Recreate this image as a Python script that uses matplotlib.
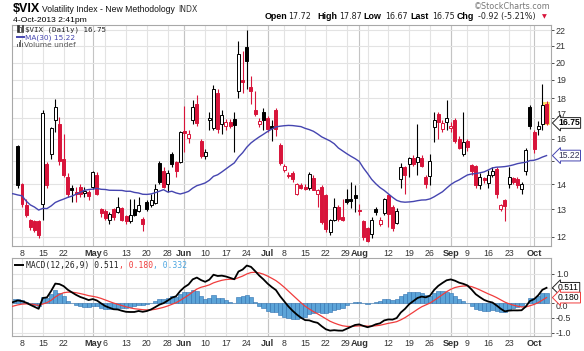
import numpy as np
import pandas as pd
import matplotlib

matplotlib.use("Agg")
import matplotlib.pyplot as plt
from matplotlib.patches import Rectangle
from matplotlib.lines import Line2D
from matplotlib.ticker import NullLocator
from matplotlib.transforms import ScaledTranslation

W, H = 584, 351
RED = "#d8143a"
MA_BLUE = "#4545b0"
GRID = "#e3e3e3"
GRID_MONTH = "#c4c4c4"
TXT = "#333333"

# VIX closes 1-Feb-2013 .. 4-Apr-2013, off the chart; they only warm up MA(30) and MACD
prior_close = [12.90, 14.67, 13.72, 13.41, 13.50, 13.02, 13.16, 12.94, 12.64, 12.66,
               12.46, 12.31, 14.68, 15.22, 14.17, 18.99, 16.87, 14.73, 15.51, 15.36,
               14.15, 13.48, 13.53, 12.83, 12.59, 11.56, 12.27, 11.38, 11.30, 11.30,
               12.56, 13.99, 12.67, 13.99, 12.90, 13.74, 12.77, 13.15, 12.70, 13.58,
               12.74, 14.21, 13.89]

holidays = ["2013-05-27", "2013-07-04", "2013-09-02"]
dates = pd.bdate_range("2013-04-05", "2013-10-04")
dates = dates[~dates.isin(pd.to_datetime(holidays))]

opens = [15.65, 14.00, 13.15, 12.60, 12.55, 12.55, 13.20, 14.85, 15.30, 16.90,
         16.70, 15.05, 14.30, 13.85, 13.70, 13.90, 13.65, 13.70, 13.90, 14.40,
         13.00, 12.95, 12.60, 13.00, 12.90, 13.05, 12.75, 12.55, 13.00, 12.95,
         12.65, 13.30, 13.15, 13.25, 14.90, 14.55, 14.00, 15.30, 14.95, 14.95,
         16.35, 16.05, 16.90, 17.70, 15.90, 15.20, 16.90, 16.50, 18.30, 16.70,
         16.60, 16.80, 16.95, 18.40, 19.00, 20.90, 18.60, 17.40, 16.70, 17.30,
         17.00, 16.60, 17.40, 15.70, 14.60, 14.40, 14.45, 13.60, 13.95, 13.90,
         13.85, 14.25, 13.60, 13.90, 13.55, 12.15, 12.60, 13.10, 12.70, 13.40,
         13.42, 13.55, 12.95, 12.55, 12.30, 12.10, 13.00, 12.45, 12.85, 13.55,
         13.10, 12.50, 14.20, 14.70, 14.85, 15.10, 14.95, 15.10, 14.30, 14.35,
         16.55, 17.20, 16.45, 16.80, 16.50, 16.90, 16.00, 15.30, 15.90, 14.80,
         14.75, 13.95, 14.25, 14.05, 14.40, 14.65, 13.00, 13.35, 14.00, 14.25,
         14.20, 13.80, 14.55, 17.55, 16.30, 16.45, 16.70, 17.72]
highs = [15.70, 14.05, 13.40, 12.65, 12.60, 12.60, 17.40, 14.95, 16.55, 17.95,
         17.05, 16.20, 14.45, 13.95, 13.90, 14.00, 13.90, 13.75, 14.55, 14.50,
         13.05, 13.00, 12.90, 13.05, 13.50, 13.10, 12.80, 13.40, 13.40, 13.50,
         12.70, 13.35, 13.60, 14.00, 15.00, 14.70, 14.60, 15.40, 15.00, 16.35,
         17.60, 16.40, 17.90, 18.20, 16.00, 15.50, 17.30, 18.70, 18.50, 17.40,
         16.95, 16.95, 17.30, 21.30, 20.70, 22.00, 19.20, 18.40, 17.00, 17.50,
         17.10, 16.90, 17.50, 15.80, 14.85, 14.50, 14.55, 14.05, 14.05, 14.00,
         14.50, 14.40, 13.80, 13.95, 13.60, 12.65, 13.45, 13.15, 13.40, 13.80,
         14.10, 13.95, 13.20, 12.60, 12.35, 12.70, 13.10, 12.70, 13.45, 13.60,
         13.15, 13.05, 14.90, 14.75, 15.15, 15.25, 16.70, 15.25, 14.40, 15.30,
         17.30, 17.30, 16.90, 17.90, 16.80, 17.00, 16.10, 17.30, 16.00, 14.85,
         14.80, 14.45, 14.30, 14.60, 14.70, 14.70, 13.20, 13.40, 14.70, 14.30,
         14.30, 14.10, 15.55, 17.65, 16.40, 16.85, 18.80, 17.87]
lows = [13.85, 13.10, 12.70, 12.25, 12.15, 11.95, 12.60, 13.85, 15.05, 16.30,
        14.80, 14.30, 13.50, 13.30, 13.30, 13.50, 13.50, 13.35, 13.80, 13.55,
        12.70, 12.60, 12.45, 12.60, 12.85, 12.55, 12.45, 12.50, 12.75, 12.90,
        12.20, 12.95, 13.10, 13.20, 14.00, 13.85, 13.70, 14.70, 14.30, 14.90,
        15.40, 15.80, 16.70, 16.60, 15.10, 15.05, 16.40, 16.40, 16.25, 16.20,
        16.40, 16.50, 15.40, 18.00, 18.30, 18.50, 17.70, 17.10, 16.55, 16.40,
        16.30, 15.90, 16.10, 14.80, 14.50, 14.25, 14.10, 13.55, 13.80, 13.75,
        13.75, 13.75, 13.10, 12.45, 12.15, 12.05, 12.55, 12.55, 12.55, 13.20,
        13.05, 12.90, 12.80, 11.90, 11.80, 11.95, 12.80, 12.40, 12.80, 12.35,
        12.20, 12.45, 13.85, 13.60, 14.30, 14.75, 14.40, 14.70, 13.85, 13.95,
        15.85, 16.00, 16.30, 16.40, 16.30, 15.80, 15.50, 15.20, 15.45, 14.40,
        13.85, 13.80, 14.05, 13.85, 14.30, 13.45, 12.95, 12.55, 13.85, 14.00,
        13.85, 13.60, 14.40, 16.45, 15.35, 16.15, 16.40, 16.67]
closes = [13.95, 13.19, 12.80, 12.36, 12.24, 12.06, 17.27, 13.96, 16.51, 17.56,
          14.97, 14.39, 13.60, 13.75, 13.62, 13.61, 13.71, 13.52, 14.49, 13.59,
          12.85, 12.66, 12.83, 12.73, 13.09, 12.59, 12.55, 12.77, 12.80, 13.17,
          12.45, 13.02, 13.37, 13.82, 14.07, 13.88, 14.48, 14.83, 14.53, 16.30,
          16.27, 16.20, 17.55, 16.75, 15.20, 15.40, 17.00, 18.50, 16.45, 17.15,
          16.80, 16.61, 16.64, 20.49, 18.90, 20.11, 18.40, 17.21, 16.86, 16.90,
          16.45, 16.50, 16.45, 14.89, 14.78, 14.35, 14.21, 14.01, 13.84, 13.80,
          14.42, 13.78, 13.77, 12.54, 12.29, 12.60, 13.10, 12.65, 12.62, 13.30,
          13.33, 13.45, 12.94, 11.98, 11.84, 12.62, 12.90, 12.62, 13.41, 12.81,
          12.31, 12.95, 14.73, 14.37, 15.10, 14.85, 15.18, 14.76, 14.00, 14.99,
          16.90, 16.80, 16.75, 17.01, 16.61, 15.88, 15.58, 15.85, 15.63, 14.53,
          13.95, 14.30, 14.16, 14.38, 14.53, 13.59, 13.16, 13.12, 14.30, 14.08,
          13.95, 14.00, 15.46, 16.60, 15.54, 16.60, 17.67, 16.75]

tick_dates = ["2013-04-08", "2013-04-15", "2013-04-22", "2013-05-01", "2013-05-06",
              "2013-05-13", "2013-05-20", "2013-05-28", "2013-06-03", "2013-06-10",
              "2013-06-17", "2013-06-24", "2013-07-01", "2013-07-08", "2013-07-15",
              "2013-07-22", "2013-07-29", "2013-08-01", "2013-08-12", "2013-08-19",
              "2013-08-26", "2013-09-03", "2013-09-09", "2013-09-16", "2013-09-23",
              "2013-10-01"]
tick_labels = ["8", "15", "22", "May", "6", "13", "20", "28", "Jun", "10", "17", "24",
               "Jul", "8", "15", "22", "29", "Aug", "12", "19", "26", "Sep", "9", "16",
               "23", "Oct"]
price_ticks = [12, 13, 14, 15, 16, 17, 18, 19, 20, 21, 22]
macd_ticks = [-1.0, -0.5, 0.0, 0.5, 1.0]

# header quote line: (text, x position in px, is_label)
quote = [("Open", 265, True), ("17.72", 288, False), ("High", 317, True),
         ("17.87", 339, False), ("Low", 363, True), ("16.67", 385, False),
         ("Last", 410, True), ("16.75", 432, False), ("Chg", 457, True),
         ("-0.92 (-5.21%)", 478, False)]

# ---- indicators
n = len(closes)
all_close = pd.Series(prior_close + closes)
x_all = np.arange(-len(prior_close), n)
ma30 = all_close.rolling(30).mean()
macd = all_close.ewm(span=12, adjust=False).mean() - all_close.ewm(span=26, adjust=False).mean()
signal = macd.ewm(span=9, adjust=False).mean()
hist = macd - signal

# ---- figure / axes placed in pixels
fig = plt.figure(figsize=(W / 100, H / 100), dpi=100)
ax = fig.add_axes([12 / W, 1 - 246 / H, 539 / W, 221 / H])
ax2 = fig.add_axes([12 / W, 1 - 336 / H, 539 / W, 78 / H])
renderer = fig.canvas.get_renderer()


def ftext(x, y, s, **kw):
    kw.setdefault("va", "baseline")
    return fig.text(x / W, 1 - y / H, s, **kw)


def chain(x, y, parts, gap=0):
    for s, kw in parts:
        t = ftext(x, y, s, **kw)
        x = t.get_window_extent(renderer).x1 + gap
    return x


def nudge(label, dx=0.0, dy=0.0):
    # shift one tick label by a few pixels
    label.set_transform(label.get_transform()
                        + ScaledTranslation(dx / 100, dy / 100, fig.dpi_scale_trans))


xmin, xmax = 1 + (12 - 22) / 4.163, 1 + (551 - 22) / 4.163
tick_pos = [dates.get_loc(pd.Timestamp(d)) for d in tick_dates]
week_start = [i for i in range(1, n) if dates[i].week != dates[i - 1].week]
month_start = [i for i in range(1, n) if dates[i].month != dates[i - 1].month]

for a in (ax, ax2):
    a.set_xlim(xmin, xmax)
    for i in week_start:
        a.axvline(i, color=GRID, lw=0.8, zorder=0)
    for i in month_start:
        a.axvline(i, color=GRID_MONTH, lw=0.8, zorder=0)
    a.set_xticks(tick_pos)
    a.set_xticklabels(tick_labels, family="Liberation Sans")
    a.tick_params(axis="x", length=0, pad=2.5, labelsize=6.3, colors=TXT)
    labs = a.get_xticklabels()
    for k, lab in enumerate(labs):
        if not lab.get_text().isdigit():
            lab.set_fontweight("bold")
            lab.set_fontsize(6.6)
            if k > 0 and tick_pos[k] - tick_pos[k - 1] <= 3:
                nudge(labs[k - 1], dx=-1.5)
                nudge(lab, dx=1.0)
    a.yaxis.tick_right()
    a.tick_params(axis="y", length=2, width=0.6, pad=1.5, labelsize=6.4,
                  colors=TXT, direction="out")
    for sp in a.spines.values():
        sp.set_color("#a8a8a8")
        sp.set_linewidth(0.8)

# ---- price panel
ax.set_yscale("log")
ax.set_ylim(22 * np.exp(-(246 - 30) / 341), 22 * np.exp(5 / 341))
ax.yaxis.set_major_locator(plt.FixedLocator(price_ticks))
# the 15 label sits under the MA(30) tag in the original
ax.yaxis.set_major_formatter(plt.FixedFormatter(["" if v == 15 else str(v) for v in price_ticks]))
ax.yaxis.set_minor_locator(NullLocator())
for lab in ax.get_yticklabels():
    lab.set_family("Liberation Sans")
    if lab.get_text() == "17":
        nudge(lab, dy=4.5)
for v in price_ticks:
    ax.axhline(v, color=GRID, lw=0.8, zorder=0)

prev = [prior_close[-1]] + closes[:-1]
for i in range(n):
    o, h, l, c = opens[i], highs[i], lows[i], closes[i]
    col = RED if c < prev[i] else "black"
    lo_b, hi_b = min(o, c), max(o, c)
    if i == n - 1:
        ax.add_patch(Rectangle((i - 0.75, lo_b * 0.995), 1.5, hi_b * 1.005 - lo_b * 0.995,
                               fc="#ffe36b", ec="none", zorder=1.5))
    ax.vlines(i, l, lo_b, color=col, lw=0.8, zorder=2)
    ax.vlines(i, hi_b, h, color=col, lw=0.8, zorder=2)
    ax.add_patch(Rectangle((i - 0.36, lo_b), 0.72, max(hi_b - lo_b, 0.03),
                           fc=col if c < o else "white", ec=col, lw=0.7, zorder=3))

ax.plot(x_all, ma30, color=MA_BLUE, lw=1.0, zorder=4)

tag = dict(ha="left", va="center", fontsize=6.2, family="Liberation Sans",
           clip_on=False, zorder=10)
ytr = ax.get_yaxis_transform()
ax.text(1.013, closes[-1], f"{closes[-1]:.2f}", transform=ytr, fontweight="bold",
        color="black", bbox=dict(boxstyle="larrow,pad=0.1", fc="white", ec="#222222", lw=0.7),
        **tag)
ax.text(1.013, ma30.iloc[-1], f"{ma30.iloc[-1]:.2f}", transform=ytr, color="#333355",
        bbox=dict(boxstyle="larrow,pad=0.1", fc="white", ec=MA_BLUE, lw=0.7), **tag)

# ---- MACD panel
ax2.set_ylim(-33 / 29.5, 45 / 29.5)
ax2.set_yticks(macd_ticks)
ax2.set_yticklabels(["" if v == 0.5 else f"{v:.1f}" for v in macd_ticks], family="Liberation Sans")
for lab in ax2.get_yticklabels():
    if lab.get_text() == "0.0":
        nudge(lab, dy=-2.5)
for v in macd_ticks:
    ax2.axhline(v, color=GRID, lw=0.8, zorder=0)
ax2.bar(x_all, hist, width=1.0, color="#5ca4d8", edgecolor="#2f6fae", lw=0.4, zorder=2)
ax2.plot(x_all, signal, color="#f03c3c", lw=0.9, zorder=3)
ax2.plot(x_all, macd, color="black", lw=1.3, zorder=4)

ytr2 = ax2.get_yaxis_transform()
ax2.text(1.013, macd.iloc[-1], "0.511", transform=ytr2, color="black",
         bbox=dict(boxstyle="larrow,pad=0.1", fc="white", ec="#222222", lw=0.7), **tag)
ax2.text(1.013, signal.iloc[-1], "0.180", transform=ytr2, color="black",
         bbox=dict(boxstyle="larrow,pad=0.1", fc="white", ec="#f03c3c", lw=0.7), **tag)

# ---- header text
ftext(13, 12, "$VIX", fontsize=9, fontweight="bold", family="Liberation Sans", color="black")
ftext(42, 12, "Volatility Index - New Methodology", fontsize=6.2,
      family="Liberation Sans", color="#111111")
ftext(178, 12, "INDX", fontsize=5.6, family="DejaVu Sans", color="#333333")
ftext(13, 22, "4-Oct-2013 2:41pm", fontsize=6.1, family="Liberation Sans", color="black")
ftext(551, 9, "\u00a9StockCharts.com", fontsize=5.8, family="DejaVu Sans",
      color="#777777", ha="right")

for s, xq, is_label in quote:
    if is_label:
        ftext(xq, 19, s, fontsize=6.4, fontweight="bold", family="Liberation Sans",
              color="black")
    else:
        ftext(xq, 19, s, fontsize=5.8, family="DejaVu Sans", color="#222222")
ftext(542, 18, "\u25bc", fontsize=4.5, color=RED, family="DejaVu Sans")

# ---- legends inside the panels
mono = dict(fontsize=5.4, family="DejaVu Sans Mono")
for k, (bx, bh) in enumerate([(17.0, 6), (19.3, 4), (21.6, 6)]):
    fig.add_artist(Rectangle((bx / W, 1 - 31.5 / H), 1.5 / W, bh / H, transform=fig.transFigure,
                             fc="#333333" if k != 1 else "white", ec="#333333", lw=0.5))
ftext(25, 31.5, "$VIX (Daily) 16.75", color="#222222", **mono)
fig.add_artist(Line2D([17 / W, 24 / W], [1 - 36.5 / H] * 2, color=MA_BLUE, lw=1.4,
                      transform=fig.transFigure))
ftext(25, 39.2, "MA(30) 15.22", color=MA_BLUE, fontsize=5.3, family="DejaVu Sans")
for k, bh in enumerate([3, 5, 7, 4]):
    fig.add_artist(Rectangle(((17 + 1.6 * k) / W, 1 - 46.8 / H), 1.1 / W, bh / H,
                             transform=fig.transFigure, fc="#666666", ec="none"))
ftext(24, 46.8, "Volume undef", color="#555555", fontsize=5.4, family="DejaVu Sans")

fig.add_artist(Line2D([15 / W, 23 / W], [1 - 265 / H] * 2, color="black", lw=1.4,
                      transform=fig.transFigure))
chain(26, 268, [("MACD(12,26,9) 0.511", dict(color="#222222", fontsize=5.8,
                                              family="DejaVu Sans Mono")),
                (", 0.180", dict(color="#f03c3c", fontsize=5.8, family="DejaVu Sans Mono")),
                (", 0.332", dict(color="#4da6e0", fontsize=5.8, family="DejaVu Sans Mono"))])

fig.savefig("out.png", dpi=100)
